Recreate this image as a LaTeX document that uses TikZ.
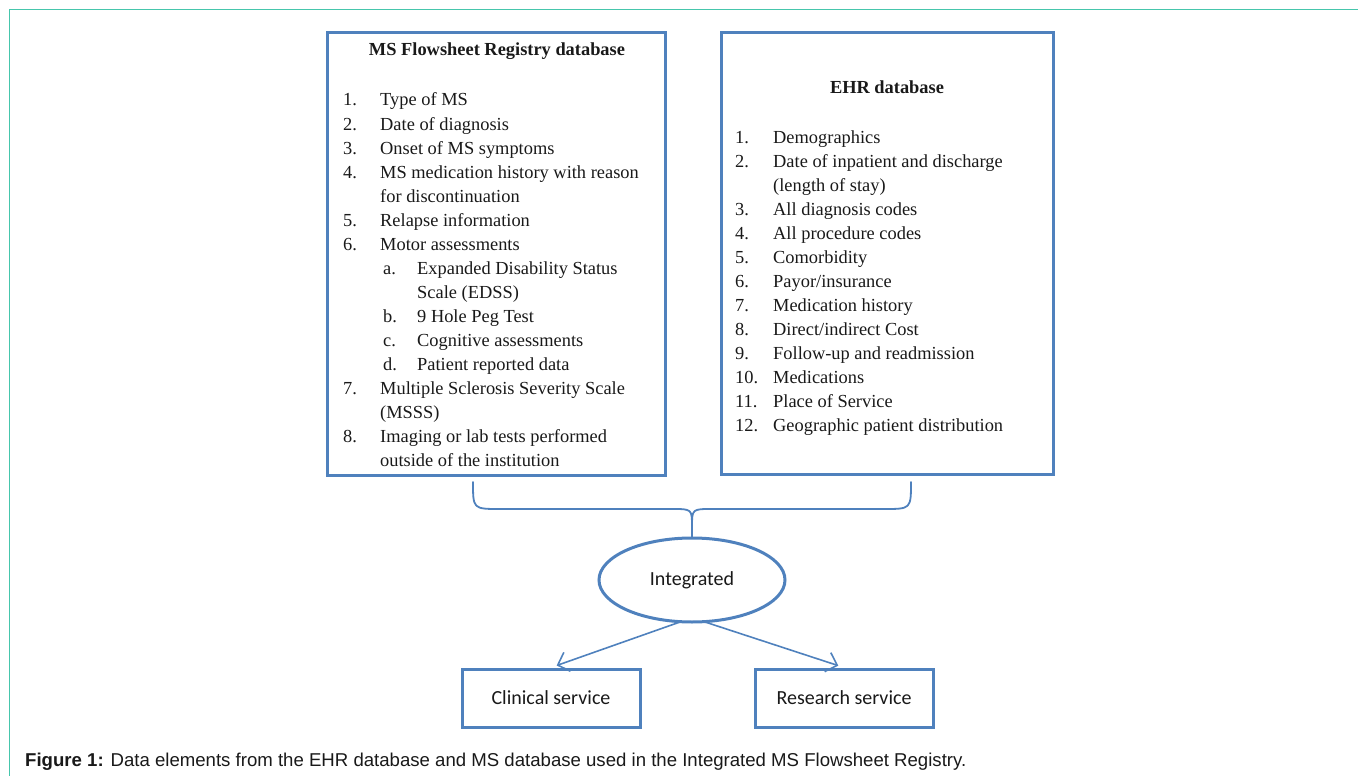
\documentclass[tikz,border=0pt]{standalone}
\usepackage{fontspec}
\setmainfont{Liberation Serif}
\newfontfamily\carl{Carlito}
\newfontfamily\capf{Liberation Sans}
\usetikzlibrary{arrows.meta,shapes.geometric}
\definecolor{boxblue}{RGB}{79,129,189}
\definecolor{frameteal}{RGB}{70,198,172}
\definecolor{ink}{RGB}{25,25,25}
\tikzset{
  dbbox/.style={draw=boxblue, line width=3pt, minimum width=#1, inner sep=0pt},
  txt/.style={inner sep=0pt, anchor=base west, text=ink, font=\fontsize{18.4}{22}\selectfont},
  ttl/.style={inner sep=0pt, anchor=base, text=ink, font=\fontsize{18.4}{22}\selectfont\bfseries},
  svc/.style={draw=boxblue, line width=3pt, minimum width=178pt, minimum height=58pt, inner sep=0pt, font=\carl\fontsize{20}{24}\selectfont, text=ink},
  arr/.style={draw=boxblue, line width=1.6pt, -{Straight Barb[length=10pt,width=20pt,line width=1.6pt]}},
  bracestyle/.style={draw=boxblue, line width=1.8pt, line cap=round, line join=round}
}
\begin{document}
\begin{tikzpicture}[x=1pt,y=-1pt]
\useasboundingbox (0,0) rectangle (1358,776);
% outer frame
\draw[frameteal, line width=1.8pt] (1358,9.5) -- (9.5,9.5) -- (9.5,776);
% boxes
\node[dbbox=338pt, minimum height=442pt] (msbox) at (496,254) {};
\node[dbbox=332pt, minimum height=441pt] (ehrbox) at (887,253.5) {};
% titles
\node[ttl] (mstitle) at (497,56) {MS Flowsheet Registry database};
\node[ttl] (ehrtitle) at (887,93) {EHR database};
% left list
\foreach \d/\n/\t [count=\i from 0] in {
  0/1./Type of MS,
  0/2./Date of diagnosis,
  0/3./Onset of MS symptoms,
  0/4./MS medication history with reason,
  0//for discontinuation,
  0/5./Relapse information,
  0/6./Motor assessments,
  1/a./Expanded Disability Status,
  1//Scale (EDSS),
  1/b./9 Hole Peg Test,
  1/c./Cognitive assessments,
  1/d./Patient reported data,
  0/7./Multiple Sclerosis Severity Scale,
  0//(MSSS),
  0/8./Imaging or lab tests performed,
  0//outside of the institution}{
  \node[txt] (Ln\i) at (343+40*\d, 106+24*\i) {\n};
  \node[txt] (Lt\i) at (380+37*\d, 106+24*\i) {\t};
}
% right list
\foreach \n/\t [count=\i from 0] in {
  1./Demographics,
  2./Date of inpatient and discharge,
  /(length of stay),
  3./All diagnosis codes,
  4./All procedure codes,
  5./Comorbidity,
  6./{Payor/insurance},
  7./Medication history,
  8./{Direct/indirect Cost},
  9./Follow-up and readmission,
  10./Medications,
  11./Place of Service,
  12./Geographic patient distribution}{
  \node[txt] (Rn\i) at (735, 143+24*\i) {\n};
  \node[txt] (Rt\i) at (773, 143+24*\i) {\t};
}
% brace
\coordinate (bl) at (473,482);
\coordinate (br) at (911,482);
\coordinate (btip) at (692,537);
\draw[bracestyle] (bl) .. controls (473,509) .. (500,509) -- (672,509)
   .. controls (692,509) .. (692,527) -- (btip);
\draw[bracestyle] (br) .. controls (911,509) .. (884,509) -- (712,509)
   .. controls (692,509) .. (692,527);
% ellipse
\node[ellipse, draw=boxblue, line width=3pt, minimum width=186pt, minimum height=84pt, inner sep=0pt,
      font=\carl\fontsize{20}{24}\selectfont, text=ink] (int) at (692,580) {Integrated};
% services
\node[svc] (clin) at (551,698) {Clinical service};
\node[svc] (res) at (844,698) {Research service};
% arrows
\coordinate (aL) at (680,622);
\coordinate (aR) at (705,622);
\draw[arr, shorten >=6pt] (aL) -- (clin.north);
\draw[arr, shorten >=6pt] (aR) -- (res.north);
% caption
\node[inner sep=0pt, anchor=base west, text=ink, font=\capf\fontsize{18.6}{22}\selectfont] (cap) at (25,766)
  {\textbf{Figure 1:} Data elements from the EHR database and MS database used in the Integrated MS Flowsheet Registry.};
\end{tikzpicture}
\end{document}
